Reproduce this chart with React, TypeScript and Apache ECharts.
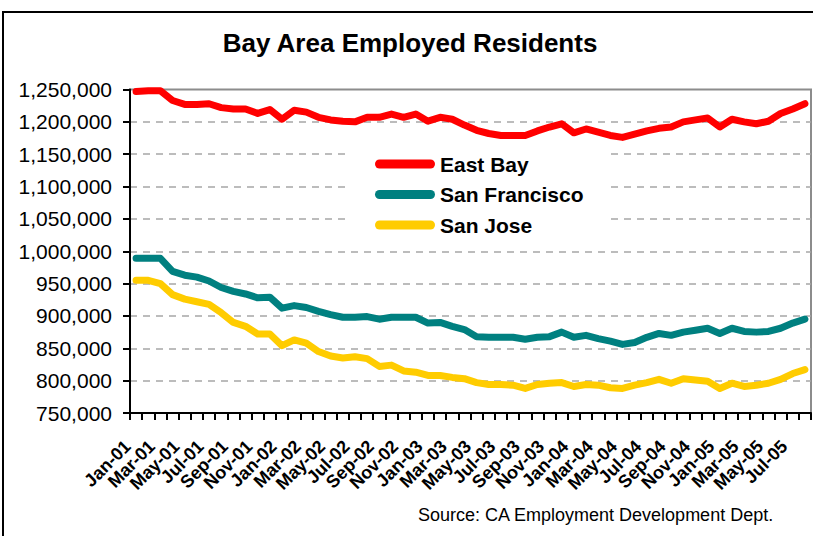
import React, { useEffect, useRef } from "react";
import * as echarts from "echarts";

const categories = [
  "Jan-01","Feb-01","Mar-01","Apr-01","May-01","Jun-01","Jul-01","Aug-01","Sep-01","Oct-01","Nov-01","Dec-01",
  "Jan-02","Feb-02","Mar-02","Apr-02","May-02","Jun-02","Jul-02","Aug-02","Sep-02","Oct-02","Nov-02","Dec-02",
  "Jan-03","Feb-03","Mar-03","Apr-03","May-03","Jun-03","Jul-03","Aug-03","Sep-03","Oct-03","Nov-03","Dec-03",
  "Jan-04","Feb-04","Mar-04","Apr-04","May-04","Jun-04","Jul-04","Aug-04","Sep-04","Oct-04","Nov-04","Dec-04",
  "Jan-05","Feb-05","Mar-05","Apr-05","May-05","Jun-05","Jul-05","Aug-05",
];

const eastBay = [
  1247000,1248000,1248000,1233000,1227000,1227000,1228000,1222000,1220000,1220000,1213000,1219000,
  1204000,1218000,1215000,1207000,1203000,1201000,1200000,1207000,1207000,1212000,1207000,1212000,
  1201000,1207000,1204000,1195000,1187000,1182000,1179000,1179000,1179000,1186000,1192000,1197000,
  1183000,1189000,1184000,1179000,1176000,1181000,1186000,1190000,1192000,1200000,1203000,1206000,
  1192000,1204000,1200000,1197000,1201000,1213000,1220000,1228000,
];

const sanFrancisco = [
  989000,989000,989000,969000,963000,960000,954000,944000,938000,934000,928000,929000,
  912000,916000,913000,907000,902000,898000,898000,899000,895000,898000,898000,898000,
  889000,890000,884000,879000,868000,867000,867000,867000,864000,867000,868000,875000,
  867000,870000,865000,861000,856000,859000,867000,873000,870000,875000,878000,881000,
  873000,881000,876000,875000,876000,881000,889000,895000,
];

const sanJose = [
  955000,955000,950000,933000,926000,922000,918000,905000,890000,884000,872000,872000,
  854000,863000,858000,845000,838000,835000,837000,834000,822000,824000,815000,813000,
  808000,808000,805000,803000,797000,794000,794000,793000,788000,794000,796000,797000,
  791000,794000,793000,789000,788000,793000,797000,802000,796000,803000,801000,799000,
  788000,796000,791000,793000,796000,802000,811000,817000,
];

const seriesNames = ["East Bay", "San Francisco", "San Jose"];
const seriesColors = ["#FF0000", "#008080", "#FFCC00"];

const FONT = 'Arial, "Liberation Sans", sans-serif';

export default function App() {
  const ref = useRef<HTMLDivElement>(null);

  useEffect(() => {
    if (!ref.current) return;
    const chart = echarts.init(ref.current, undefined, { renderer: "svg" });
    const dataSets = [eastBay, sanFrancisco, sanJose];
    chart.setOption({
      animation: false,
      backgroundColor: "#ffffff",
      textStyle: { fontFamily: FONT },
      title: {
        text: "Bay Area Employed Residents",
        left: 410,
        textAlign: "center",
        top: 30,
        padding: 0,
        textStyle: { fontSize: 26, fontWeight: "bold", color: "#000", fontFamily: FONT },
      },
      grid: {
        left: 130,
        top: 89.5,
        width: 681,
        height: 323.5,
        show: true,
        borderColor: "#8c8c8c",
        borderWidth: 2,
        backgroundColor: "transparent",
      },
      legend: {
        orient: "vertical",
        left: 347,
        top: 140,
        padding: [13, 27, 9, 28],
        backgroundColor: "#ffffff",
        itemWidth: 60,
        itemHeight: 9,
        itemGap: 8.5,
        icon: "path://M4.5,0 L55.5,0 A4.5,4.5 0 0 1 55.5,9 L4.5,9 A4.5,4.5 0 0 1 4.5,0 Z",
        textStyle: { fontSize: 21, fontWeight: "bold", color: "#000", lineHeight: 22, fontFamily: FONT },
        data: seriesNames,
      },
      xAxis: {
        type: "category",
        data: categories,
        boundaryGap: true,
        axisLine: { lineStyle: { color: "#000", width: 2 } },
        axisTick: { show: true, interval: 0, length: 7, lineStyle: { color: "#000", width: 2 } },
        axisLabel: {
          interval: 0,
          formatter: (v: string, i: number) => (i % 2 === 0 ? v : ""),
          rotate: 45,
          margin: 22,
          padding: [0, 12, 0, 0],
          fontSize: 18,
          fontWeight: "bold",
          color: "#000",
          fontFamily: FONT,
        },
        splitLine: { show: false },
      },
      yAxis: {
        type: "value",
        min: 750000,
        max: 1250000,
        interval: 50000,
        axisLine: { show: true, lineStyle: { color: "#000", width: 2 } },
        axisTick: { show: true, length: 7, lineStyle: { color: "#000", width: 2 } },
        axisLabel: {
          margin: 18,
          fontSize: 21,
          color: "#000",
          fontFamily: FONT,
          formatter: (v: number) => v.toLocaleString("en-US"),
        },
        splitLine: {
          show: true,
          showMinLine: false,
          showMaxLine: false,
          lineStyle: { color: "#a6a6a6", type: [7, 6], width: 1.5 },
        },
      },
      series: seriesNames.map((name, i) => ({
        type: "line",
        name,
        data: dataSets[i],
        showSymbol: false,
        symbol: "none",
        clip: false,
        itemStyle: { color: seriesColors[i] },
        lineStyle: { width: 7, color: seriesColors[i], cap: "round", join: "round" },
      })),
      graphic: [
        {
          type: "rect",
          silent: true,
          shape: { x: 3, y: 12, width: 900, height: 700 },
          style: { fill: "none", stroke: "#000", lineWidth: 2 },
        },
        {
          type: "text",
          left: 418,
          top: 506,
          style: { text: "Source: CA Employment Development Dept.", font: `18px ${FONT}`, fill: "#000" },
        },
      ],
    });
    return () => chart.dispose();
  }, []);

  return (
    <div
      ref={ref}
      style={{ position: "absolute", left: 0, top: 0, width: 813, height: 536, background: "#fff" }}
    />
  );
}
